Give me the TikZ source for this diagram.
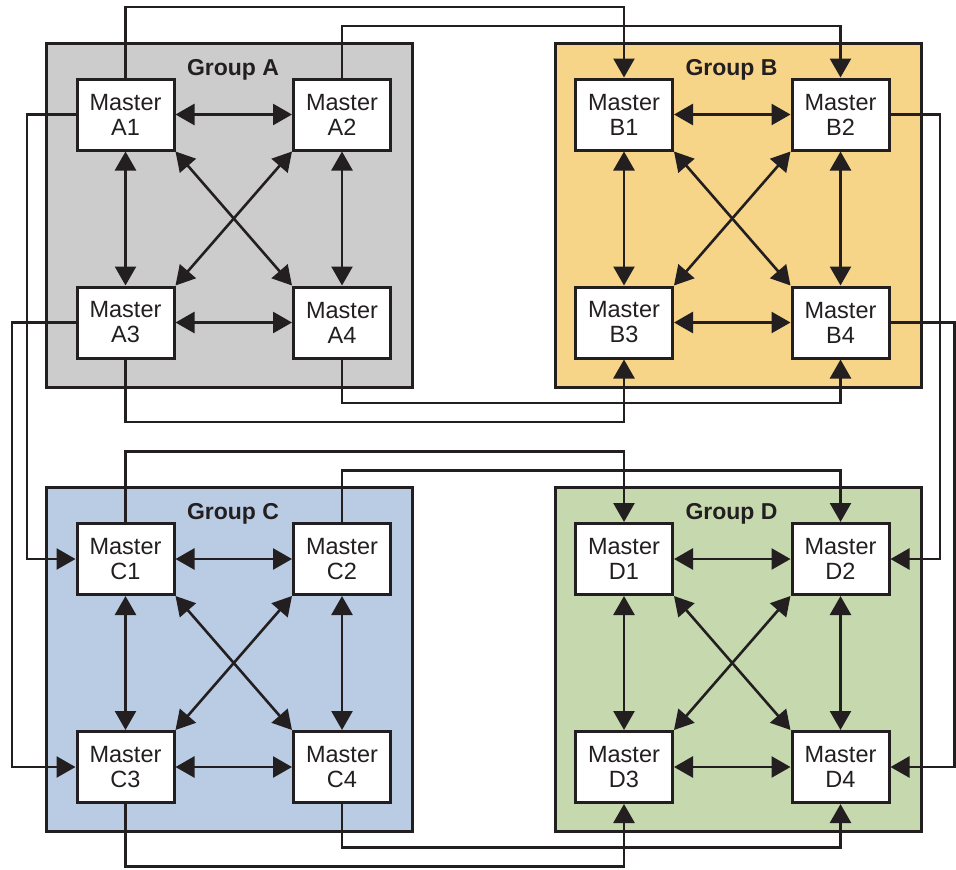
\documentclass[tikz,border=0pt]{standalone}
\usepackage{fontspec}
\setmainfont{Liberation Sans}
\usetikzlibrary{arrows.meta}
\definecolor{ink}{HTML}{231F20}
\definecolor{grpA}{HTML}{CCCCCC}
\definecolor{grpB}{HTML}{F6D488}
\definecolor{grpC}{HTML}{B9CCE4}
\definecolor{grpD}{HTML}{C6D8AE}
\tikzset{>={Triangle[length=19pt,width=21pt]}}

\begin{document}
\begin{tikzpicture}[x=1pt, y=-1pt]
        % groups first, links on top of the fills
        \tikzstyle{master}=[rectangle, draw=ink, fill=white, line width=3pt, text=ink,
                minimum width=97pt, minimum height=71pt, inner sep=0pt, align=center,
                font=\fontsize{23.5}{25}\selectfont]
        \tikzstyle{group}=[rectangle, draw=ink, line width=3pt, minimum width=366pt,
                minimum height=344pt, inner sep=0pt]
        \tikzstyle{title}=[anchor=base, text=ink, font=\fontsize{23}{25}\selectfont\bfseries]
        \tikzstyle{link}=[draw=ink, line width=2.6pt]
        \useasboundingbox (0,0) rectangle (956,870);
        \foreach \g/\dx/\dy/\gx/\c in {A/0/0/229/grpA, B/498.5/0/239.5/grpB,
                        C/0/444.5/229/grpC, D/498.5/444.5/239.5/grpD} {
                \begin{scope}[shift={(\dx,\dy)}]
                        \node[group, fill=\c] (G\g) at (\gx,215) {};
                        \node[title] (T\g) at (233,75) {Group \g};
                        \node[master] (\g1) at (125.5,114.5) {Master\\\g1};
                        \node[master] (\g2) at (342,114.5) {Master\\\g2};
                        \node[master] (\g3) at (125.5,322.5) {Master\\\g3};
                        \node[master] (\g4) at (342,322.5) {Master\\\g4};
                        \draw[link, <->] (\g1) -- (\g2);
                        \draw[link, <->] (\g3) -- (\g4);
                        \draw[link, <->] (\g1) -- (\g3);
                        \draw[link, <->] (\g2) -- (\g4);
                        \draw[link, <->] (\g1.south east) -- (\g4.north west);
                        \draw[link, <->] (\g2.south west) -- (\g3.north east);
                \end{scope}
        }
        % left group -> right group
        \foreach \u/\v in {A/B, C/D} {
                \draw[link, ->] (\u1.north) -- ++(0,-70.5) -| (\v1.north);
                \draw[link, ->] (\u2.north) -- ++(0,-51.5) -| (\v2.north);
                \draw[link, ->] (\u3.south) -- ++(0,62.5) -| (\v3.south);
                \draw[link, ->] (\u4.south) -- ++(0,43.5) -| (\v4.south);
        }
        % upper group -> lower group
        \draw[link, ->] (A1.west) -- ++(-48.5,0) |- (C1.west);
        \draw[link, ->] (A3.west) -- ++(-63.5,0) |- (C3.west);
        \draw[link, ->] (B2.east) -- ++(49.5,0) |- (D2.east);
        \draw[link, ->] (B4.east) -- ++(64,0) |- (D4.east);
\end{tikzpicture}
\end{document}
